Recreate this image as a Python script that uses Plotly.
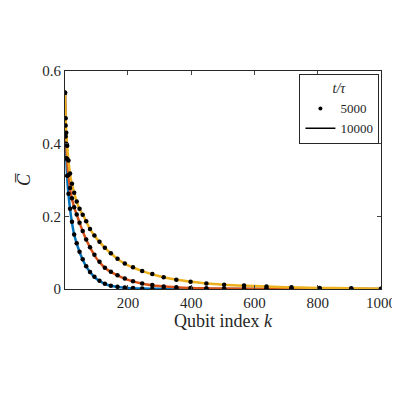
import plotly.graph_objects as go

# qubit index samples and correlation values
k = [1, 3, 5, 10, 15, 20, 30, 40, 50, 66, 80, 100, 125, 150, 175, 200, 250, 300, 350, 400, 450, 500, 600, 700, 800, 900, 1000]
c_blue = [0.54, 0.42, 0.36, 0.28, 0.235, 0.2, 0.15, 0.12, 0.095, 0.065, 0.047, 0.028, 0.015, 0.008, 0.005, 0.003, 0.0012, 0.0005, 0.0002, 0.0001, 0, 0, 0, 0, 0, 0, 0]
c_orange = [0.54, 0.45, 0.40, 0.33, 0.29, 0.26, 0.225, 0.2, 0.175, 0.14, 0.115, 0.085, 0.06, 0.045, 0.034, 0.025, 0.014, 0.008, 0.005, 0.003, 0.002, 0.0012, 0.0005, 0.0002, 0.0001, 0, 0]
c_yellow = [0.54, 0.47, 0.43, 0.37, 0.33, 0.30, 0.265, 0.235, 0.215, 0.19, 0.165, 0.14, 0.115, 0.095, 0.078, 0.065, 0.048, 0.035, 0.026, 0.02, 0.015, 0.012, 0.008, 0.005, 0.003, 0.002, 0.001]

# dot sample positions (t/tau = 5000)
k_dots = [1, 3, 5, 8, 12, 17, 23, 30, 38, 47, 57, 68, 80, 94, 110, 127, 146, 167, 190, 216, 245, 277, 313, 353, 398, 448, 504, 567, 638, 717, 806, 906, 1000]
colors = ['#0072BD', '#D95319', '#EDB120']

def lookup(xs, ys, x):
    for i in range(len(xs) - 1):
        if xs[i] <= x <= xs[i + 1]:
            f = (x - xs[i]) / (xs[i + 1] - xs[i])
            return ys[i] + f * (ys[i + 1] - ys[i])
    return ys[-1]

fig = go.Figure()
for ys, col in zip([c_blue, c_orange, c_yellow], colors):
    fig.add_trace(go.Scatter(x=k, y=ys, mode='lines', line=dict(color=col, width=2.5, shape='spline'),
                             showlegend=False))
for ys in [c_blue, c_orange, c_yellow]:
    fig.add_trace(go.Scatter(x=k_dots, y=[lookup(k, ys, x) for x in k_dots], mode='markers',
                             marker=dict(color='black', size=4.5), showlegend=False))

# legend entries
fig.add_trace(go.Scatter(x=[None], y=[None], mode='markers', marker=dict(color='black', size=4), name='5000'))
fig.add_trace(go.Scatter(x=[None], y=[None], mode='lines', line=dict(color='black', width=1.5), name='10000'))

fig.update_layout(
    width=400, height=400, plot_bgcolor='white', paper_bgcolor='white',
    margin=dict(l=57, r=27, t=63, b=119),
    font=dict(family='Liberation Serif', size=15, color='#262626'),
    legend=dict(title=dict(text='<i>t/τ</i>', side='top center', font=dict(family='Liberation Serif', size=14)),
                x=0.995, y=0.985, xanchor='right', yanchor='top',
                bordercolor='#262626', borderwidth=1, bgcolor='white',
                font=dict(family='Liberation Serif', size=13),
                itemwidth=30, tracegroupgap=0),
)
fig.update_xaxes(range=[1, 1000], tickvals=[200, 400, 600, 800, 1000], ticks='inside', ticklen=4,
                 showline=True, linecolor='#262626', mirror='ticks', showgrid=False, zeroline=False,
                 title=dict(text='Qubit index <i>k</i>', standoff=4))
fig.update_yaxes(range=[0, 0.6], tickvals=[0, 0.2, 0.4, 0.6], ticktext=['0', '0.2', '0.4', '0.6'],
                 ticks='inside', ticklen=4, showline=True, linecolor='#262626', mirror='ticks',
                 showgrid=False, zeroline=False, title=dict(text='<i>C\u0305</i>', standoff=6))

fig.write_html("out.html")
